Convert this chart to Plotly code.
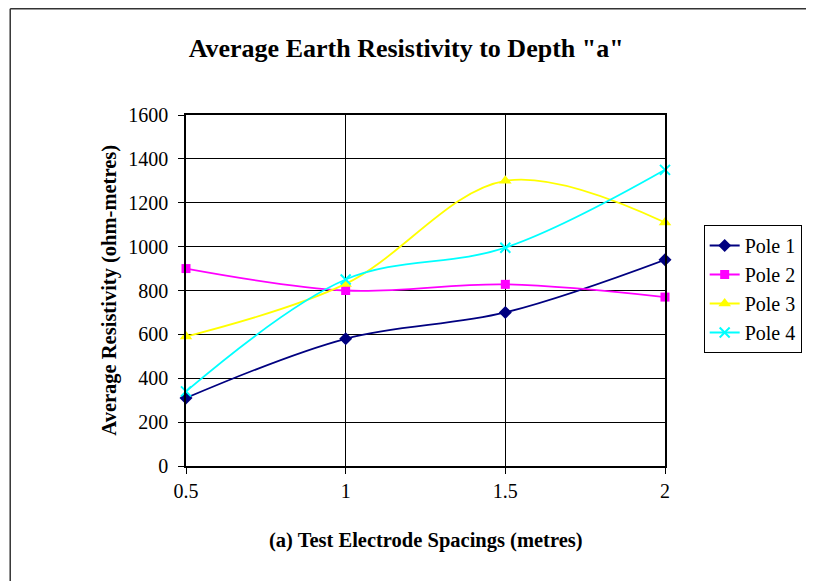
import plotly.graph_objects as go

spacing = [0.5, 1.0, 1.5, 2.0]
pole1 = [310, 580, 700, 940]
pole2 = [900, 800, 828, 770]
pole3 = [590, 830, 1300, 1110]
pole4 = [340, 850, 995, 1350]

series_names = ["Pole 1", "Pole 2", "Pole 3", "Pole 4"]
series_values = [pole1, pole2, pole3, pole4]
colors = ["#000080", "#FF00FF", "#FFFF00", "#00FFFF"]
symbols = ["diamond", "square", "triangle-up", "x-thin"]
sizes = [10, 9, 11, 10]

FONT = "Liberation Serif, Times New Roman, serif"

OFF = 8  # default page body margin in the written html
W, H = 814 - OFF, 581 - OFF
L, R, T, B = 186, 669, 115, 466  # plot area in page pixels


def px_x(p):
    return (p - L) / (R - L)


def px_y(p):
    return (B - p) / (B - T)


fig = go.Figure()
for name, vals, c, s, sz in zip(series_names, series_values, colors, symbols, sizes):
    marker = dict(color=c, size=sz, symbol=s)
    if s == "x-thin":
        marker["line"] = dict(color=c, width=2)
    fig.add_trace(go.Scatter(
        x=spacing, y=vals, name=name, mode="lines+markers",
        line=dict(color=c, width=1.8, shape="spline", smoothing=1.0),
        marker=marker, cliponaxis=False,
    ))

fig.update_layout(
    width=W, height=H,
    margin=dict(l=L - OFF, r=W - (R - OFF), t=T - OFF, b=H - (B - OFF), pad=0),
    paper_bgcolor="white", plot_bgcolor="white",
    font=dict(family=FONT, size=20, color="black"),
    title=dict(text="<b>Average Earth Resistivity to Depth \"a\"</b>",
               x=px_x(408), xref="paper", xanchor="center",
               y=1 - (48 - OFF) / H, yref="container", yanchor="middle",
               font=dict(family=FONT, size=26, color="black")),
    showlegend=True,
    legend=dict(x=px_x(708), y=px_y(225), xanchor="left", yanchor="top",
                bordercolor="black", borderwidth=1, bgcolor="white",
                font=dict(family=FONT, size=20, color="black"),
                tracegroupgap=0, itemwidth=30),
    xaxis=dict(range=[0.5, 2.0], dtick=0.5, tick0=0.5,
               showgrid=True, gridcolor="black", gridwidth=1,
               showline=True, linecolor="black", linewidth=1.5, mirror=True,
               ticks="outside", ticklen=6, tickcolor="black",
               zeroline=False, tickfont=dict(size=20, family=FONT)),
    yaxis=dict(range=[0, 1600], dtick=200,
               showgrid=True, gridcolor="black", gridwidth=1,
               showline=True, linecolor="black", linewidth=1.5, mirror=True,
               ticks="outside", ticklen=6, tickcolor="black",
               ticklabelstandoff=6,
               zeroline=False, tickfont=dict(size=20, family=FONT)),
    annotations=[
        dict(text="<b>(a) Test Electrode Spacings (metres)</b>",
             x=px_x(427.5), y=px_y(540), xref="paper", yref="paper",
             xanchor="center", yanchor="middle", showarrow=False,
             font=dict(family=FONT, size=20.5, color="black")),
        dict(text="<b>Average Resistivity (ohm-metres)</b>",
             x=px_x(108), y=px_y(290), xref="paper", yref="paper",
             xanchor="center", yanchor="middle", showarrow=False,
             textangle=-90,
             font=dict(family=FONT, size=20.5, color="black")),
    ],
    shapes=[
        dict(type="line", xref="paper", yref="paper",
             x0=px_x(OFF + 0.75), y0=px_y(OFF + 0.75),
             x1=px_x(830), y1=px_y(OFF + 0.75),
             line=dict(color="#333333", width=1.5)),
        dict(type="line", xref="paper", yref="paper",
             x0=px_x(OFF + 0.75), y0=px_y(OFF + 0.75),
             x1=px_x(OFF + 0.75), y1=px_y(600),
             line=dict(color="#333333", width=1.5)),
    ],
)

fig.write_html("out.html")
